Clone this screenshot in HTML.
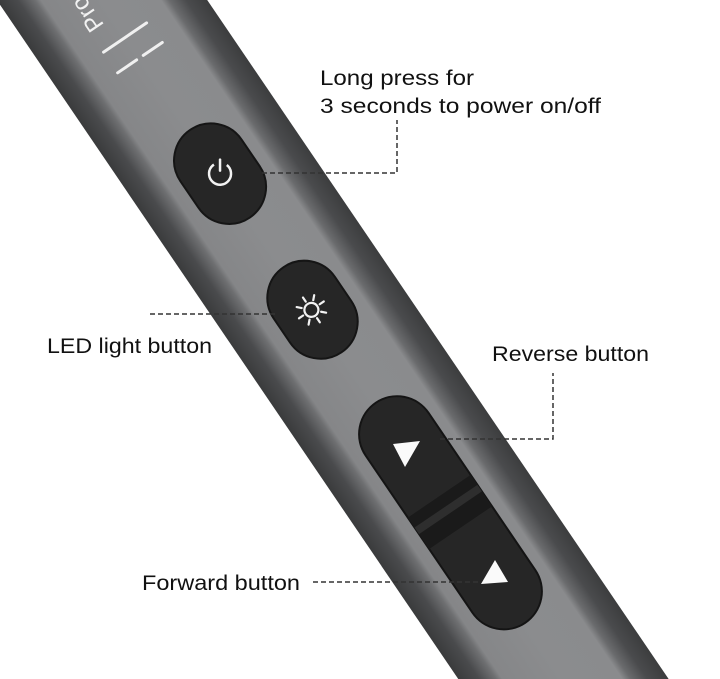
<!DOCTYPE html>
<html><head><meta charset="utf-8"><style>
html,body{margin:0;padding:0;background:#fff;overflow:hidden;}
svg{display:block}
text{font-family:"Liberation Sans","DejaVu Sans",sans-serif;}
</style></head><body>
<svg width="720" height="679" viewBox="0 0 720 679" xmlns="http://www.w3.org/2000/svg">
<defs>
<linearGradient id="body" x1="-87" y1="0" x2="87" y2="0" gradientUnits="userSpaceOnUse">
<stop offset="0" stop-color="#3a3b3c"/>
<stop offset="0.1" stop-color="#4a4b4d"/>
<stop offset="0.18" stop-color="#6e6f71"/>
<stop offset="0.21" stop-color="#858688"/>
<stop offset="0.5" stop-color="#8b8c8e"/>
<stop offset="0.78" stop-color="#8a8b8d"/>
<stop offset="0.82" stop-color="#6a6b6d"/>
<stop offset="0.9" stop-color="#4a4b4d"/>
<stop offset="1" stop-color="#3c3d3e"/>
</linearGradient>
</defs>
<rect width="720" height="679" fill="#fff"/>
<g transform="translate(102,0) rotate(-34.2)">
<rect x="-87" y="-200" width="174" height="1200" fill="url(#body)"/>
<text x="-12" y="22" transform="rotate(-90 -12 22)" fill="#f2f2f2" font-size="24">Pro</text>
<line x1="-28" y1="44" x2="24" y2="44" stroke="#f0f0f0" stroke-width="3" stroke-linecap="round"/>
<line x1="-28" y1="69" x2="-5" y2="69" stroke="#f0f0f0" stroke-width="3" stroke-linecap="round"/>
<line x1="3" y1="69" x2="26" y2="69" stroke="#f0f0f0" stroke-width="3" stroke-linecap="round"/>
<rect x="-37" y="157" width="74" height="106" rx="37" fill="#262626" stroke="#151515" stroke-width="2"/>
<g transform="rotate(34.2 0 210)">
<circle cx="0" cy="210" r="11" fill="none" stroke="#f2f2f2" stroke-width="2.5" stroke-dasharray="55 14" transform="rotate(-52 0 210)"/>
<line x1="0" y1="196" x2="0" y2="207" stroke="#f2f2f2" stroke-width="2.5" stroke-linecap="round"/>
</g>
<rect x="-37" y="323" width="74" height="103" rx="37" fill="#262626" stroke="#151515" stroke-width="2"/>
<g transform="translate(-1,374)" stroke="#f2f2f2" stroke-width="2.2" stroke-linecap="round">
<circle r="7" fill="none"/>
<line x1="0" y1="-10" x2="0" y2="-15"/><line x1="0" y1="10" x2="0" y2="15"/>
<line x1="-10" y1="0" x2="-15" y2="0"/><line x1="10" y1="0" x2="15" y2="0"/>
<line x1="7" y1="7" x2="10.6" y2="10.6"/><line x1="-7" y1="-7" x2="-10.6" y2="-10.6"/>
<line x1="7" y1="-7" x2="10.6" y2="-10.6"/><line x1="-7" y1="7" x2="-10.6" y2="10.6"/>
</g>
<rect x="-38" y="487" width="76" height="266" rx="38" fill="#262626" stroke="#141414" stroke-width="2"/>
<rect x="-38" y="600" width="76" height="38" fill="#1a1a1a"/>
<rect x="-38" y="612" width="76" height="8" fill="#2e2e2e"/>
</g>
<polygon points="393,444 420,441 405,467" fill="#fafafa"/>
<polygon points="481,584 508,582 495,560" fill="#fafafa"/>
<g stroke="#333" stroke-width="1.5" stroke-dasharray="5 3" fill="none">
<polyline points="262,173 397,173 397,120"/>
<line x1="150" y1="314" x2="275" y2="314"/>
<polyline points="440,439 553,439 553,373"/>
<line x1="313" y1="582" x2="480" y2="582"/>
</g>
<g fill="#111" font-size="21">
<text x="320" y="85" textLength="154" lengthAdjust="spacingAndGlyphs">Long press for</text>
<text x="320" y="113" textLength="281" lengthAdjust="spacingAndGlyphs">3 seconds to power on/off</text>
<text x="47" y="353" textLength="165" lengthAdjust="spacingAndGlyphs">LED light button</text>
<text x="492" y="361" textLength="157" lengthAdjust="spacingAndGlyphs">Reverse button</text>
<text x="142" y="590" textLength="158" lengthAdjust="spacingAndGlyphs">Forward button</text>
</g>
</svg>
</body></html>
